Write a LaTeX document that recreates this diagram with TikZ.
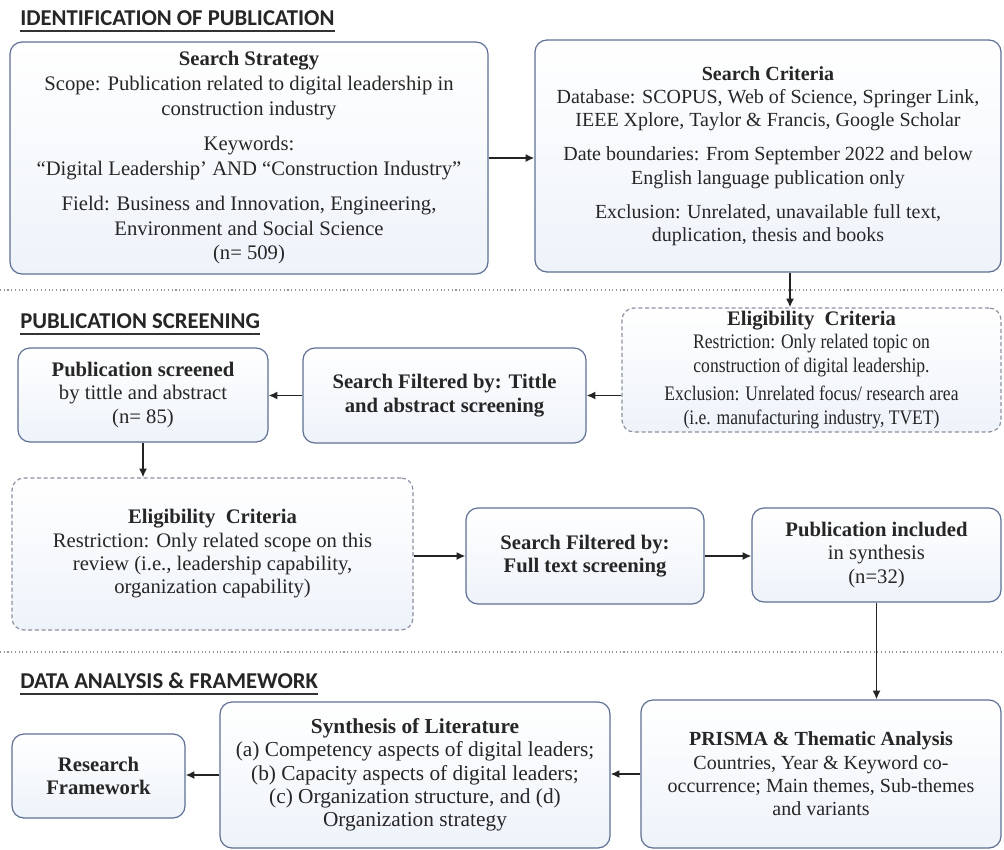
\documentclass[tikz,border=0pt]{standalone}
\usepackage{fontspec}
\setmainfont{Liberation Serif}
\newfontfamily\condfont[FakeStretch=0.85]{Liberation Serif}
\newfontfamily\headfont{Carlito}
\usetikzlibrary{arrows.meta,calc}
\definecolor{boxline}{RGB}{96,112,148}
\definecolor{dashline}{RGB}{140,145,160}
\definecolor{boxfill}{RGB}{238,243,250}
\definecolor{arrowcol}{RGB}{35,35,35}
\definecolor{sepcol}{RGB}{150,150,150}
\tikzset{
  basebox/.style={rounded corners=9pt, top color=white, bottom color=boxfill, align=center, inner sep=2pt, text=black!85},
  solidbox/.style={basebox, draw=boxline, line width=0.9pt},
  dashbox/.style={basebox, draw=dashline, line width=0.9pt, dash pattern=on 3pt off 2pt},
  arr/.style={draw=arrowcol, line width=1.3pt, -{Latex[length=6.5pt,width=6pt]}},
  sepline/.style={draw=sepcol, line width=0.8pt, dotted},
  heading/.style={anchor=south west, inner sep=0pt, font=\headfont\bfseries\fontsize{17}{19}\selectfont, text=black!85},
  ulstyle/.style={draw=black!80, line width=1.2pt},
  afont/.style={font=\fontsize{15.5}{18.5}\selectfont},
  bfont/.style={font=\fontsize{15}{17.5}\selectfont},
  midfont/.style={font=\fontsize{15.5}{17.5}\selectfont},
  lowfont/.style={font=\fontsize{15.5}{17.5}\selectfont},
}
\begin{document}
\begin{tikzpicture}[x=0.75pt,y=-0.75pt]
\useasboundingbox[fill=white] (0,0) rectangle (1004,850);

% headings
\node[heading] (h1) at (20,26) {IDENTIFICATION OF PUBLICATION};
\draw[ulstyle] ($(h1.south west)+(0,5)$) -- ($(h1.south east)+(0,5)$);
\node[heading] (h2) at (20,329) {PUBLICATION SCREENING};
\draw[ulstyle] ($(h2.south west)+(0,5)$) -- ($(h2.south east)+(0,5)$);
\node[heading] (h3) at (20,689) {DATA ANALYSIS \& FRAMEWORK};
\draw[ulstyle] ($(h3.south west)+(0,5)$) -- ($(h3.south east)+(0,5)$);

% separators
\coordinate (s1l) at (0,290); \coordinate (s1r) at (1004,290);
\coordinate (s2l) at (0,652); \coordinate (s2r) at (1004,652);
\draw[sepline] (s1l) -- (s1r);
\draw[sepline] (s2l) -- (s2r);

% boxes
\node[solidbox, afont, minimum width=358.5pt, minimum height=174pt] (A) at (249,158)
{\textbf{Search Strategy}\\
Scope: Publication related to digital leadership in\\
construction industry\\[8pt]
Keywords:\\
“Digital Leadership’ AND “Construction Industry”\\[8pt]
Field: Business and Innovation, Engineering,\\
Environment and Social Science\\
(n= 509)};

\node[solidbox, bfont, minimum width=349.5pt, minimum height=174pt] (B) at (768,156)
{\textbf{Search Criteria}\\
Database: SCOPUS, Web of Science, Springer Link,\\
IEEE Xplore, Taylor \& Francis, Google Scholar\\[8pt]
Date boundaries: From September 2022 and below\\
English language publication only\\[8pt]
Exclusion: Unrelated, unavailable full text,\\
duplication, thesis and books};

\node[dashbox, midfont, minimum width=284.25pt, minimum height=93pt] (E1) at (811.5,370)
{\textbf{Eligibility\ \ Criteria}\\
{\condfont Restriction: Only related topic on}\\
{\condfont construction of digital leadership.}\\[4pt]
{\condfont Exclusion: Unrelated focus/ research area}\\
{\condfont (i.e. manufacturing industry, TVET)}};

\node[solidbox, midfont, minimum width=212.25pt, minimum height=71.25pt] (SF1) at (444.5,395.5)
{\textbf{Search Filtered by: Tittle}\\
\textbf{and abstract screening}};

\node[solidbox, midfont, minimum width=187.5pt, minimum height=70.5pt] (PS) at (143,395)
{\textbf{Publication screened}\\
by tittle and abstract\\
(n= 85)};

\node[dashbox, midfont, minimum width=300.75pt, minimum height=114pt] (E2) at (212.5,554)
{\textbf{Eligibility\ \ Criteria}\\
Restriction: Only related scope on this\\
review (i.e., leadership capability,\\
organization capability)};

\node[solidbox, midfont, minimum width=178.5pt, minimum height=72pt] (SF2) at (585,556)
{\textbf{Search Filtered by:}\\
\textbf{Full text screening}};

\node[solidbox, midfont, minimum width=186.75pt, minimum height=70.5pt] (PI) at (876.5,555)
{\textbf{Publication included}\\
in synthesis\\
(n=32)};

\node[solidbox, font=\fontsize{15}{17.5}\selectfont, minimum width=270pt, minimum height=111pt] (PR) at (821,774)
{\textbf{PRISMA \& Thematic Analysis}\\
Countries, Year \& Keyword co-\\
occurrence; Main themes, Sub-themes\\
and variants};

\node[solidbox, font=\fontsize{16}{17.5}\selectfont, minimum width=292.5pt, minimum height=109.5pt] (SY) at (415,775)
{\textbf{Synthesis of Literature}\\
(a) Competency aspects of digital leaders;\\
(b) Capacity aspects of digital leaders;\\
(c) Organization structure, and (d)\\
Organization strategy};

\node[solidbox, lowfont, minimum width=129.75pt, minimum height=63pt] (RF) at (98.5,776)
{\textbf{Research}\\
\textbf{Framework}};

% arrows
\draw[arr] (A.east) -- (A.east -| B.west);
\coordinate (bx) at (790,0);
\draw[arr] (B.south -| bx) -- (E1.north -| bx);
\draw[arr] (SF1.east -| E1.west) -- (SF1.east);
\draw[arr] (SF1.west) -- (SF1.west -| PS.east);
\draw[arr] (PS.south) -- (PS.south |- E2.north);
\draw[arr] (SF2.west -| E2.east) -- (SF2.west);
\draw[arr] (SF2.east) -- (SF2.east -| PI.west);
\draw[arr] (PI.south) -- (PI.south |- PR.north);
\draw[arr] (PR.west) -- (PR.west -| SY.east);
\draw[arr] (SY.west) -- (SY.west -| RF.east);
\end{tikzpicture}
\end{document}
